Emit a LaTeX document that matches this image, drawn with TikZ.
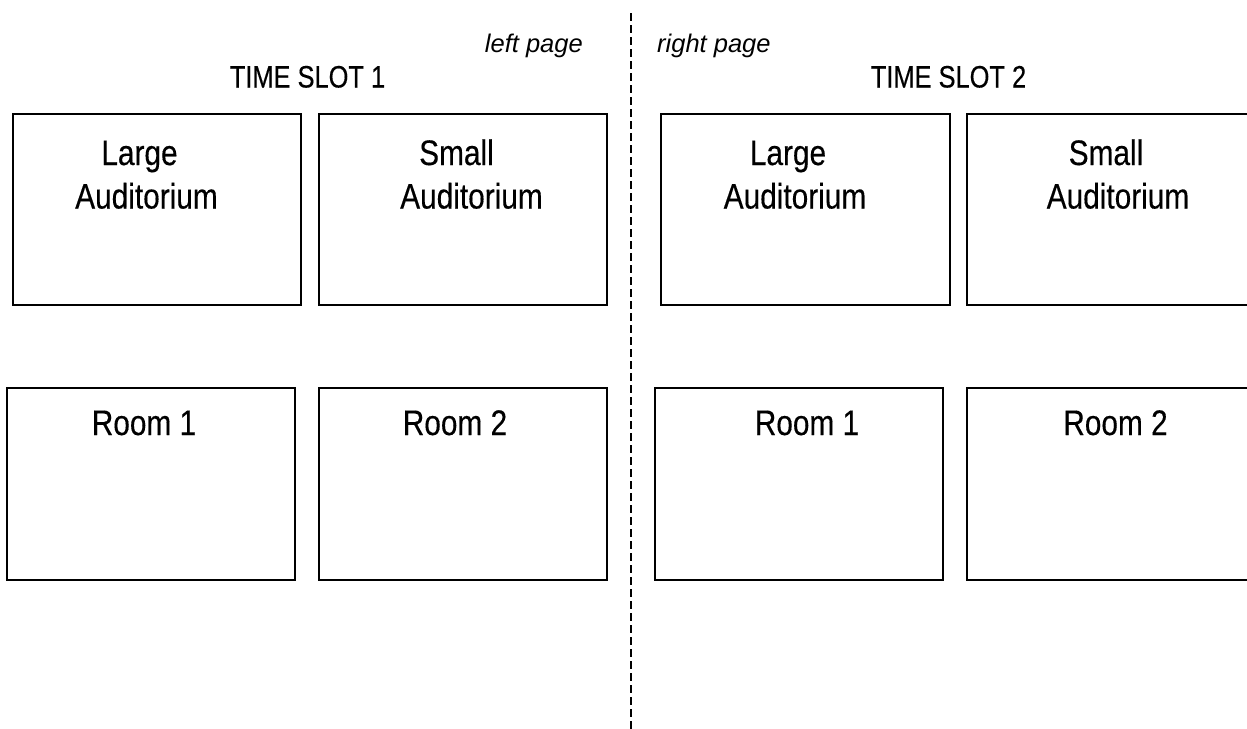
\documentclass[tikz,border=0pt]{standalone}
\usepackage{fontspec}
\setmainfont{Liberation Sans}
\newfontfamily\boxfont{Liberation Sans}[FakeStretch=0.84,FakeBold=0.3]
\newfontfamily\slotfont{Liberation Sans}[FakeStretch=0.82,FakeBold=0.3]
\newfontfamily\pagefont{Liberation Sans Italic}
\begin{document}
\begin{tikzpicture}[x=1pt,y=-1pt,
  roombox/.style={draw=black,line width=1.5pt,fill=none},
  boxtext/.style={anchor=base,inner sep=0pt,font=\boxfont\fontsize{35.5}{42}\selectfont},
  slottext/.style={anchor=base,inner sep=0pt,font=\slotfont\fontsize{31}{37}\selectfont},
  pagetext/.style={inner sep=0pt,font=\pagefont\fontsize{25.5}{30}\selectfont},
  divider/.style={draw=black,line width=1.8pt,dash pattern=on 8pt off 4pt}]
\useasboundingbox (0,0) rectangle (1247,728);
\clip (0,0) rectangle (1247,728);
\fill[white] (0,0) rectangle (1247,728);

% divider
\coordinate (dtop) at (631,13);
\coordinate (dbot) at (631,730);
\draw[divider] (dtop) -- (dbot);

% page labels
\node[pagetext,anchor=base east] (lpage) at (583,52) {left page};
\node[pagetext,anchor=base west] (rpage) at (657,52) {right page};

% time slots
\node[slottext] (ts1) at (307.5,87.5) {TIME SLOT 1};
\node[slottext] (ts2) at (948.5,87.5) {TIME SLOT 2};

% top boxes
\draw[roombox] (13,114) rectangle (301,305);
\draw[roombox] (319,114) rectangle (607,305);
\draw[roombox] (661,114) rectangle (950,305);
\draw[roombox] (967,114) rectangle (1256,305);

% bottom boxes
\draw[roombox] (7,388) rectangle (295,580);
\draw[roombox] (319,388) rectangle (607,580);
\draw[roombox] (655,388) rectangle (943,580);
\draw[roombox] (967,388) rectangle (1256,580);

% labels left page
\node[boxtext] (la1) at (139.5,165) {Large};
\node[boxtext] (la2) at (146.5,208.5) {Auditorium};
\node[boxtext] (sa1) at (456.5,165) {Small};
\node[boxtext] (sa2) at (471.5,208.5) {Auditorium};
\node[boxtext] (r1) at (144,435) {Room 1};
\node[boxtext] (r2) at (455,435) {Room 2};

% labels right page
\node[boxtext] (la3) at (788,165) {Large};
\node[boxtext] (la4) at (795,208.5) {Auditorium};
\node[boxtext] (sa3) at (1106,165) {Small};
\node[boxtext] (sa4) at (1118,208.5) {Auditorium};
\node[boxtext] (r3) at (807,435) {Room 1};
\node[boxtext] (r4) at (1115.5,435) {Room 2};
\end{tikzpicture}
\end{document}
